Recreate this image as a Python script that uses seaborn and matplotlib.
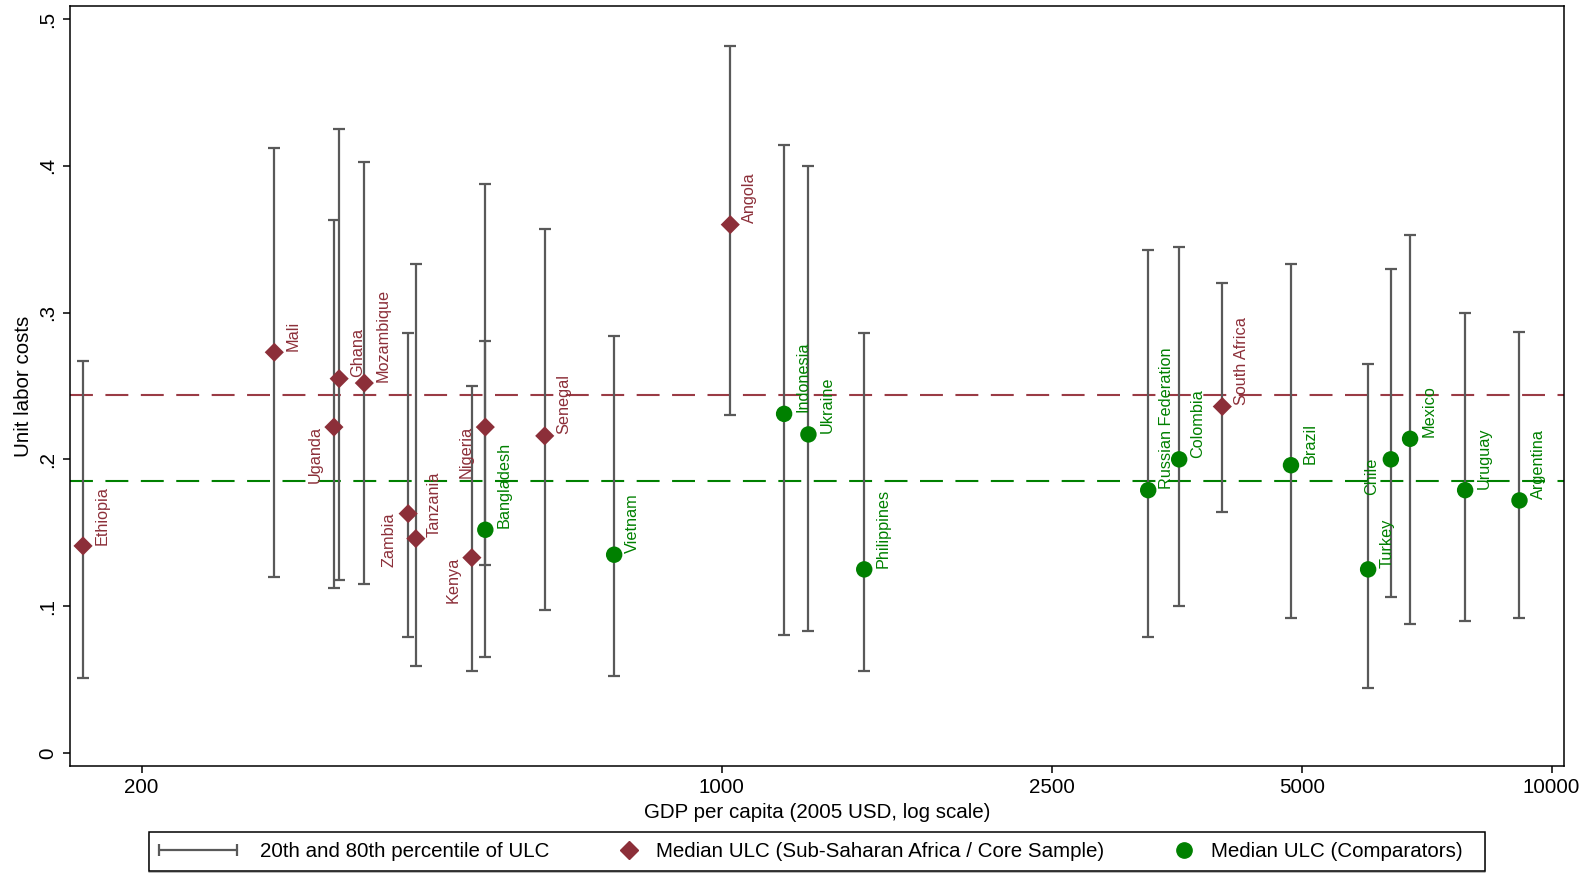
import pandas as pd
import matplotlib
matplotlib.use("Agg")
import matplotlib.pyplot as plt
import seaborn as sns
from matplotlib.lines import Line2D
from matplotlib.legend_handler import HandlerLine2D

# Sub-Saharan Africa / core sample
ssa_country = ["Ethiopia", "Mali", "Uganda", "Ghana", "Mozambique", "Zambia", "Tanzania",
               "Kenya", "Nigeria", "Senegal", "Angola", "South Africa"]
ssa_gdp = [170, 289, 341, 346, 371, 419, 428, 500, 519, 612, 1024, 4010]
ssa_median = [0.141, 0.273, 0.222, 0.255, 0.252, 0.163, 0.146, 0.133, 0.222, 0.216, 0.360, 0.236]
ssa_p20 = [0.051, 0.120, 0.112, 0.118, 0.115, 0.079, 0.059, 0.056, 0.128, 0.097, 0.230, 0.164]
ssa_p80 = [0.267, 0.412, 0.363, 0.425, 0.403, 0.286, 0.333, 0.250, 0.281, 0.357, 0.482, 0.320]
ssa_side = ["r", "r", "l", "r", "r", "l", "r", "l", "l", "r", "r", "r"]

# comparator countries
comp_country = ["Bangladesh", "Vietnam", "Indonesia", "Ukraine", "Philippines",
                "Russian Federation", "Colombia", "Brazil", "Turkey", "Chile",
                "Mexico", "Uruguay", "Argentina"]
comp_gdp = [519, 742, 1189, 1272, 1485, 3265, 3558, 4852, 6010, 6401, 6752, 7866, 9146]
comp_median = [0.152, 0.135, 0.231, 0.217, 0.125, 0.179, 0.200, 0.196, 0.125, 0.200, 0.214, 0.179, 0.172]
comp_p20 = [0.065, 0.052, 0.080, 0.083, 0.056, 0.079, 0.100, 0.092, 0.044, 0.106, 0.088, 0.090, 0.092]
comp_p80 = [0.388, 0.284, 0.414, 0.400, 0.286, 0.343, 0.345, 0.333, 0.265, 0.330, 0.353, 0.300, 0.287]
comp_side = ["r", "r", "r", "r", "r", "r", "r", "r", "r", "l", "r", "r", "r"]

# group-wide reference lines
ssa_ref = 0.2436
comp_ref = 0.185

xticks = [200, 1000, 2500, 5000, 10000]
xticklabels = ["200", "1000", "2500", "5000", "10000"]
yticks = [0, 0.1, 0.2, 0.3, 0.4, 0.5]
yticklabels = ["0", ".1", ".2", ".3", ".4", ".5"]

legend_labels = ["20th and 80th percentile of ULC",
                 "Median ULC (Sub-Saharan Africa / Core Sample)",
                 "Median ULC (Comparators)  "]

RED = "#8c2f39"
GREEN = "#008000"
BAR = "#595959"

ssa = pd.DataFrame({"country": ssa_country, "gdp": ssa_gdp, "ulc": ssa_median,
                    "p20": ssa_p20, "p80": ssa_p80, "side": ssa_side, "group": "ssa"})
comp = pd.DataFrame({"country": comp_country, "gdp": comp_gdp, "ulc": comp_median,
                     "p20": comp_p20, "p80": comp_p80, "side": comp_side, "group": "comp"})
df = pd.concat([ssa, comp], ignore_index=True)

sns.set_style("white")
plt.rcParams["font.family"] = ["Liberation Sans", "DejaVu Sans"]
plt.rcParams["text.color"] = "black"
plt.rcParams["axes.labelcolor"] = "black"
plt.rcParams["xtick.color"] = "black"
plt.rcParams["ytick.color"] = "black"

fig, ax = plt.subplots(figsize=(15.89, 8.73), dpi=100)
fig.subplots_adjust(left=0.0441, right=0.9843, top=0.9931, bottom=0.1226)

ax.axhline(ssa_ref, color="#9a3b45", lw=1.5, ls=(0, (11, 6)), zorder=1)
ax.axhline(comp_ref, color=GREEN, lw=1.5, ls=(0, (11, 6)), zorder=1)

ax.errorbar(df["gdp"], df["ulc"], yerr=[df["ulc"] - df["p20"], df["p80"] - df["ulc"]],
            fmt="none", ecolor=BAR, elinewidth=1.6, capsize=4.5, capthick=1.6, zorder=2)

sns.scatterplot(data=ssa, x="gdp", y="ulc", marker="D", color=RED, s=95,
                edgecolor="none", zorder=3, ax=ax)
sns.scatterplot(data=comp, x="gdp", y="ulc", marker="o", color=GREEN, s=140,
                edgecolor="none", zorder=3, ax=ax)

for row in df.itertuples():
    col = RED if row.group == "ssa" else GREEN
    if row.side == "r":
        ax.annotate(row.country, (row.gdp, row.ulc), xytext=(13.5, 1), textcoords="offset points",
                    rotation=90, rotation_mode="anchor", ha="left", va="center",
                    color=col, fontsize=11.7, zorder=4)
    else:
        ax.annotate(row.country, (row.gdp, row.ulc), xytext=(-13.5, 1), textcoords="offset points",
                    rotation=90, rotation_mode="anchor", ha="right", va="center",
                    color=col, fontsize=11.7, zorder=4)

ax.set_xscale("log")
ax.set_xlim(164, 10350)
ax.set_ylim(-0.009, 0.509)
ax.set_xticks(xticks)
ax.set_xticklabels(xticklabels)
ax.minorticks_off()
ax.set_yticks(yticks)
ax.set_yticklabels(yticklabels, rotation=90, va="center")
ax.tick_params(bottom=True, left=True, direction="out", length=5, width=1.1,
               color="black", labelcolor="black", labelsize=14.8, pad=4)
ax.set_xlabel("GDP per capita (2005 USD, log scale)", fontsize=14.8, labelpad=4)
ax.set_ylabel("Unit labor costs", fontsize=14.8, labelpad=4)
for s in ax.spines.values():
    s.set_color("black")
    s.set_linewidth(1.1)

h_bar = Line2D([], [], color=BAR, lw=1.6, marker="|", markersize=8, markeredgewidth=1.6)
h_ssa = Line2D([], [], ls="none", marker="D", color=RED, markersize=9.5)
h_comp = Line2D([], [], ls="none", marker="o", color=GREEN, markersize=11)
leg = fig.legend([h_bar, h_ssa, h_comp], legend_labels, loc="center",
                 bbox_to_anchor=(0.514, 0.0245), ncol=3, frameon=True, fancybox=False,
                 fontsize=14.8, handlelength=3.8, handletextpad=1.1, columnspacing=0.3,
                 borderpad=0.5, shadow={"ox": 0, "oy": -1.5, "color": "0.6"},
                 labelcolor="black",
                 handler_map={h_bar: HandlerLine2D(numpoints=2, marker_pad=0),
                              h_ssa: HandlerLine2D(xpad=3.35),
                              h_comp: HandlerLine2D(xpad=3.35)})
leg.get_frame().set_edgecolor("black")
leg.get_frame().set_linewidth(1.1)

fig.savefig("out.png", dpi=100)
